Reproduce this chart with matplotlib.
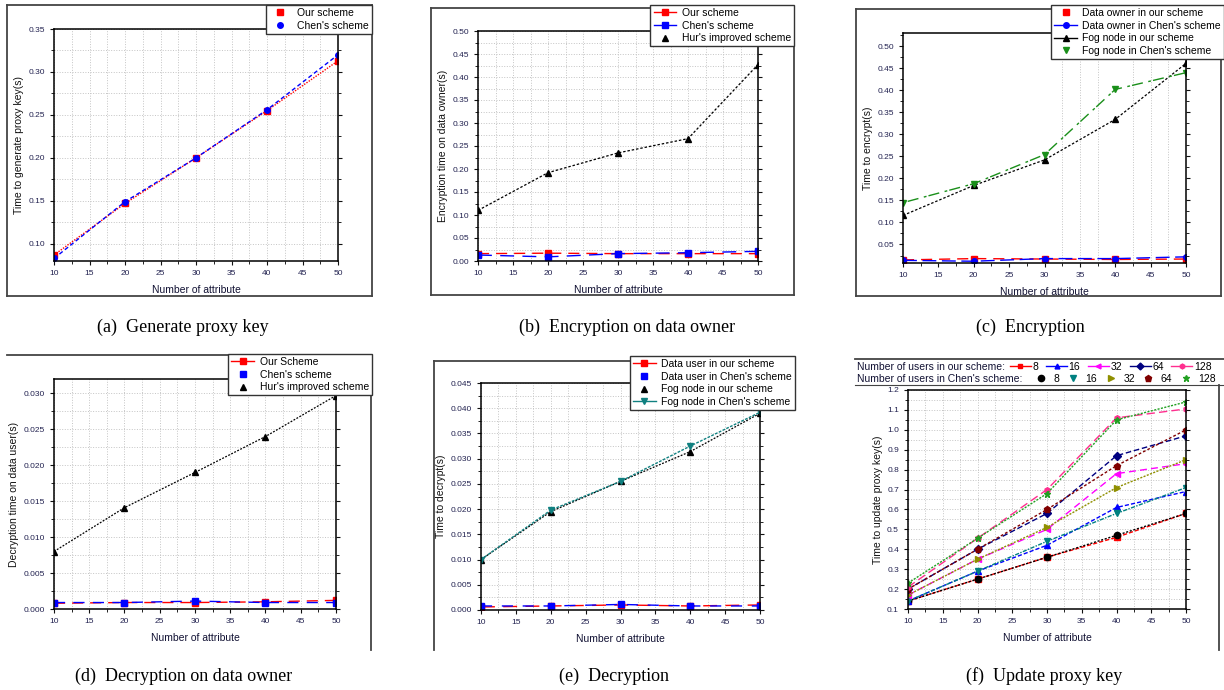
import matplotlib
matplotlib.use("Agg")
import matplotlib.pyplot as plt
from matplotlib.lines import Line2D
from matplotlib.ticker import MultipleLocator

W, H = 1224, 690

# number of attributes (shared x axis)
attrs = [10, 20, 30, 40, 50]

# (a) generate proxy key
a_our = [0.087, 0.147, 0.200, 0.255, 0.313]
a_chen = [0.083, 0.149, 0.200, 0.256, 0.320]

# (b) encryption on data owner
b_our = [0.016, 0.017, 0.016, 0.016, 0.016]
b_chen = [0.013, 0.009, 0.016, 0.018, 0.021]
b_hur = [0.110, 0.192, 0.235, 0.266, 0.427]

# (c) encryption
c_do_our = [0.015, 0.018, 0.017, 0.016, 0.017]
c_do_chen = [0.014, 0.012, 0.018, 0.018, 0.022]
c_fog_our = [0.116, 0.184, 0.242, 0.334, 0.461]
c_fog_chen = [0.145, 0.188, 0.254, 0.402, 0.440]

# (d) decryption on data user
d_our = [0.0008, 0.0009, 0.0009, 0.0010, 0.0012]
d_chen = [0.0009, 0.0009, 0.0011, 0.0009, 0.0009]
d_hur = [0.0080, 0.0141, 0.0190, 0.0240, 0.0297]

# (e) decryption
e_du_our = [0.0006, 0.0008, 0.0010, 0.0008, 0.0010]
e_du_chen = [0.0008, 0.0008, 0.0011, 0.0008, 0.0008]
e_fog_our = [0.0100, 0.0195, 0.0255, 0.0314, 0.0390]
e_fog_chen = [0.0100, 0.0198, 0.0255, 0.0325, 0.0392]

# (f) update proxy key, by number of users
users = ["8", "16", "32", "64", "128"]
f_our = [
    [0.14, 0.25, 0.36, 0.46, 0.58],
    [0.14, 0.29, 0.42, 0.61, 0.69],
    [0.17, 0.35, 0.50, 0.78, 0.83],
    [0.20, 0.40, 0.58, 0.87, 0.97],
    [0.21, 0.455, 0.70, 1.06, 1.105],
]
f_chen = [
    [0.14, 0.25, 0.36, 0.47, 0.58],
    [0.14, 0.29, 0.44, 0.58, 0.71],
    [0.17, 0.35, 0.51, 0.71, 0.85],
    [0.20, 0.40, 0.60, 0.82, 1.00],
    [0.23, 0.455, 0.68, 1.05, 1.14],
]
f_our_col = ["#ff0000", "#0000ff", "#ff00ff", "#000080", "#ff2f8f"]
f_our_mk = ["s", "^", "<", "D", "h"]
f_chen_col = ["#000000", "#008080", "#8f8f00", "#800000", "#22a022"]
f_chen_mk = ["o", "v", ">", "p", "*"]

captions = ["(a)  Generate proxy key", "(b)  Encryption on data owner", "(c)  Encryption",
            "(d)  Decryption on data owner", "(e)  Decryption", "(f)  Update proxy key"]

plt.rcParams["font.family"] = ["Liberation Sans", "DejaVu Sans"]

fig = plt.figure(figsize=(W / 100, H / 100), dpi=100)


def rect(l, t, r, b):
    return [l / W, 1 - b / H, (r - l) / W, (b - t) / H]


def fline(x0, y0, x1, y1, lw=1.3):
    # drawn under the axes so that legends sit on top of the frames
    fig.add_artist(Line2D([x0 / W, x1 / W], [1 - y0 / H, 1 - y1 / H],
                          transform=fig.transFigure, color="#444444", lw=lw, zorder=-1))


def frame(l, t, r, b):
    fline(l, t, r, t)
    fline(l, b, r, b)
    fline(l, t, l, b)
    fline(r, t, r, b)


def setup(ax, ylim, ymaj, ylabel, yfmt, grid_x=True, grid_y=True):
    ax.set_xlim(10, 50)
    ax.set_ylim(*ylim)
    ax.yaxis.set_major_locator(MultipleLocator(ymaj))
    ax.yaxis.set_minor_locator(MultipleLocator(ymaj / 2))
    ax.set_xticks([10, 15, 20, 25, 30, 35, 40, 45, 50])
    ax.set_xticklabels(["10", "15", "20", "25", "30", "35", "40", "45", "50"])
    ax.xaxis.set_minor_locator(MultipleLocator(2.5))
    ax.yaxis.set_major_formatter(plt.FormatStrFormatter(yfmt))
    ax.tick_params(axis="both", which="major", labelsize=6, length=3, width=0.8,
                   direction="out", colors="#111111", labelcolor="#222250")
    ax.tick_params(axis="both", which="minor", length=2, width=0.6, direction="out")
    ax.tick_params(axis="y", right=True, which="both")
    for s in ax.spines.values():
        s.set_linewidth(1.1)
    if grid_x:
        ax.grid(True, axis="x", which="both", ls=":", color="#c4c4c4", lw=0.7)
    if grid_y:
        ax.grid(True, axis="y", which="both", ls=":", color="#c4c4c4", lw=0.7)
    ax.set_xlabel("Number of attribute", fontsize=7.5, color="#111133", labelpad=6)
    ax.set_ylabel(ylabel, fontsize=7.5, color="#111111", labelpad=3)


def mk(color, marker, ls="none", ms=4):
    return Line2D([], [], color=color, marker=marker, ls=ls, ms=ms, lw=1.0)


def legend(ax, handles, labels, right, top):
    lg = ax.legend(handles, labels, loc="upper right",
                   bbox_to_anchor=(right / W, 1 - top / H), bbox_transform=fig.transFigure,
                   fontsize=7.5, frameon=True, fancybox=False, edgecolor="#333333",
                   framealpha=1, borderpad=0.3, labelspacing=0.25, handlelength=2.2,
                   handletextpad=0.5, borderaxespad=0)
    lg.get_frame().set_linewidth(1.0)
    lg.set_zorder(10)
    return lg


# ---- (a)
frame(7, 5, 372, 296)
ax = fig.add_axes(rect(54, 29, 338, 261))
setup(ax, (0.08, 0.35), 0.05, "Time to generate proxy key(s)", "%.2f")
ax.plot(attrs, a_our, color="red", ls=(0, (1, 1)), lw=1.0, marker="s", ms=4)
ax.plot(attrs, a_chen, color="blue", ls=(0, (3, 2)), lw=1.0, marker="o", ms=4)
legend(ax, [mk("red", "s"), mk("blue", "o")], ["Our scheme", "Chen's scheme"], 372, 5)

# ---- (b)
frame(431, 8, 794, 295)
ax = fig.add_axes(rect(478, 31, 758, 261))
setup(ax, (0.0, 0.50), 0.05, "Encryption time on data owner(s)", "%.2f")
ax.yaxis.set_minor_locator(MultipleLocator(0.025))
ax.plot(attrs, b_our, color="red", ls=(0, (8, 5)), lw=1.0, marker="s", ms=4)
ax.plot(attrs, b_chen, color="blue", ls=(0, (10, 6)), lw=1.0, marker="s", ms=4)
ax.plot(attrs, b_hur, color="black", ls=(0, (2, 1.5)), lw=0.9, marker="^", ms=4)
legend(ax, [mk("red", "s", "-"), mk("blue", "s", "-"), mk("black", "^")],
       ["Our scheme", "Chen's scheme", "Hur's improved scheme"], 794, 5)

# ---- (c)
frame(856, 9, 1221, 296)
ax = fig.add_axes(rect(903, 33, 1186, 263))
setup(ax, (0.008, 0.53), 0.05, "Time to encrypt(s)", "%.2f", grid_x=False, grid_y=False)
ax.set_yticks([0.05, 0.10, 0.15, 0.20, 0.25, 0.30, 0.35, 0.40, 0.45, 0.50])
for xv in [32.5, 35, 37.5, 42.5, 45, 47.5]:
    ax.axvline(xv, ls=":", color="#c4c4c4", lw=0.7, zorder=0)
ax.plot(attrs, c_do_our, color="red", ls=(0, (8, 5)), lw=1.0, marker="s", ms=4)
ax.plot(attrs, c_do_chen, color="blue", ls=(0, (10, 4)), lw=1.0, marker="o", ms=4)
ax.plot(attrs, c_fog_our, color="black", ls=(0, (2, 1.5)), lw=0.9, marker="^", ms=4)
ax.plot(attrs, c_fog_chen, color="#1a8f1a", ls=(0, (2, 1.5, 8, 4)), lw=1.0, marker="v", ms=4.5)
lg = legend(ax, [mk("red", "s"), mk("blue", "o", "-"), mk("black", "^", "-"), mk("#1a8f1a", "v")],
            ["Data owner in our scheme", "Data owner in Chen's scheme",
             "Fog node in our scheme", "Fog node in Chen's scheme"], 1224, 5)

# ---- (d)
fline(7, 355, 372, 355)
fline(371, 355, 371, 650)
ax = fig.add_axes(rect(54, 379, 336, 609))
setup(ax, (0.0, 0.032), 0.005, "Decryption time on data user(s)", "%.3f")
ax.plot(attrs, d_our, color="red", ls=(0, (8, 5)), lw=1.0, marker="s", ms=4)
ax.plot(attrs, d_chen, color="blue", ls=(0, (8, 6)), lw=1.0, marker="s", ms=4)
ax.plot(attrs, d_hur, color="black", ls=(0, (1.5, 1.2)), lw=0.9, marker="^", ms=4)
legend(ax, [mk("red", "s", "-"), mk("blue", "s"), mk("black", "^")],
       ["Our Scheme", "Chen's scheme", "Hur's improved scheme"], 372, 354)

# ---- (e)
fline(434, 361, 434, 650)
fline(434, 361, 630, 361)
ax = fig.add_axes(rect(481, 383, 760, 610))
setup(ax, (0.0, 0.045), 0.005, "Time to decrypt(s)", "%.3f")
ax.yaxis.set_minor_locator(MultipleLocator(0.0025))
ax.plot(attrs, e_du_our, color="red", ls=(0, (10, 6)), lw=1.0, marker="s", ms=4)
ax.plot(attrs, e_du_chen, color="blue", ls=(0, (8, 7)), lw=1.0, marker="s", ms=4)
ax.plot(attrs, e_fog_our, color="black", ls=(0, (1.5, 1.2)), lw=0.9, marker="^", ms=4)
ax.plot(attrs, e_fog_chen, color="#108080", ls=(0, (2, 1)), lw=1.0, marker="v", ms=4.5)
legend(ax, [mk("red", "s", "-"), mk("blue", "s"), mk("black", "^"), mk("#108080", "v", "-")],
       ["Data user in our scheme", "Data user in Chen's scheme",
        "Fog node in our scheme", "Fog node in Chen's scheme"], 795, 356)

# ---- (f)
fline(855, 359, 1224, 359)
fline(1219, 385, 1219, 650)
ax = fig.add_axes(rect(908, 390, 1186, 609))
setup(ax, (0.1, 1.2), 0.1, "Time to update proxy key(s)", "%.1f")
ax.yaxis.set_minor_locator(MultipleLocator(0.05))
our_ls = [(0, (3, 1.5)), (0, (3, 1.5)), (0, (5, 3)), (0, (4, 2)), (0, (6, 3))]
chen_ls = [(0, (1.5, 1.2)), (0, (3, 1, 1, 1)), (0, (1.5, 1)), (0, (2, 1.5)), (0, (1.5, 1))]
for i in range(5):
    ax.plot(attrs, f_our[i], color=f_our_col[i], ls=our_ls[i], lw=1.0, marker=f_our_mk[i], ms=4)
    ax.plot(attrs, f_chen[i], color=f_chen_col[i], ls=chen_ls[i], lw=1.0, marker=f_chen_mk[i], ms=4.5)

h_our = [mk(f_our_col[i], f_our_mk[i], "-", 3.5) for i in range(5)]
h_chen = [mk(f_chen_col[i], f_chen_mk[i], "none", 4.5) for i in range(5)]
lg1 = ax.legend(h_our, users, loc="center left", ncol=5, bbox_to_anchor=(1010 / W, 1 - 367 / H),
                bbox_transform=fig.transFigure, fontsize=7.5, frameon=False,
                borderpad=0, handlelength=2.0, handletextpad=0.15,
                columnspacing=0.75, borderaxespad=0)
ax.add_artist(lg1)
ax.legend(h_chen, users, loc="center left", ncol=5, bbox_to_anchor=(1036 / W, 1 - 379 / H),
          bbox_transform=fig.transFigure, fontsize=7.5, frameon=False,
          borderpad=0, handlelength=1.0, handletextpad=0.7,
          columnspacing=0.8, borderaxespad=0)
fig.text(857 / W, 1 - 367 / H, "Number of users in our scheme:", fontsize=7.5, va="center", color="#111133")
fig.text(857 / W, 1 - 379 / H, "Number of users in Chen's scheme:", fontsize=7.5, va="center", color="#111133")
fline(855, 385, 1224, 385, lw=0.8)

# ---- captions
cap_font = dict(fontsize=13, family="Liberation Serif", ha="center", va="center")
fig.text(183 / W, 1 - 327 / H, captions[0], **cap_font)
fig.text(627 / W, 1 - 327 / H, captions[1], **cap_font)
fig.text(1030 / W, 1 - 327 / H, captions[2], **cap_font)
fig.text(184 / W, 1 - 676 / H, captions[3], **cap_font)
fig.text(614 / W, 1 - 676 / H, captions[4], **cap_font)
fig.text(1044 / W, 1 - 676 / H, captions[5], **cap_font)

fig.savefig("out.png", dpi=100)
